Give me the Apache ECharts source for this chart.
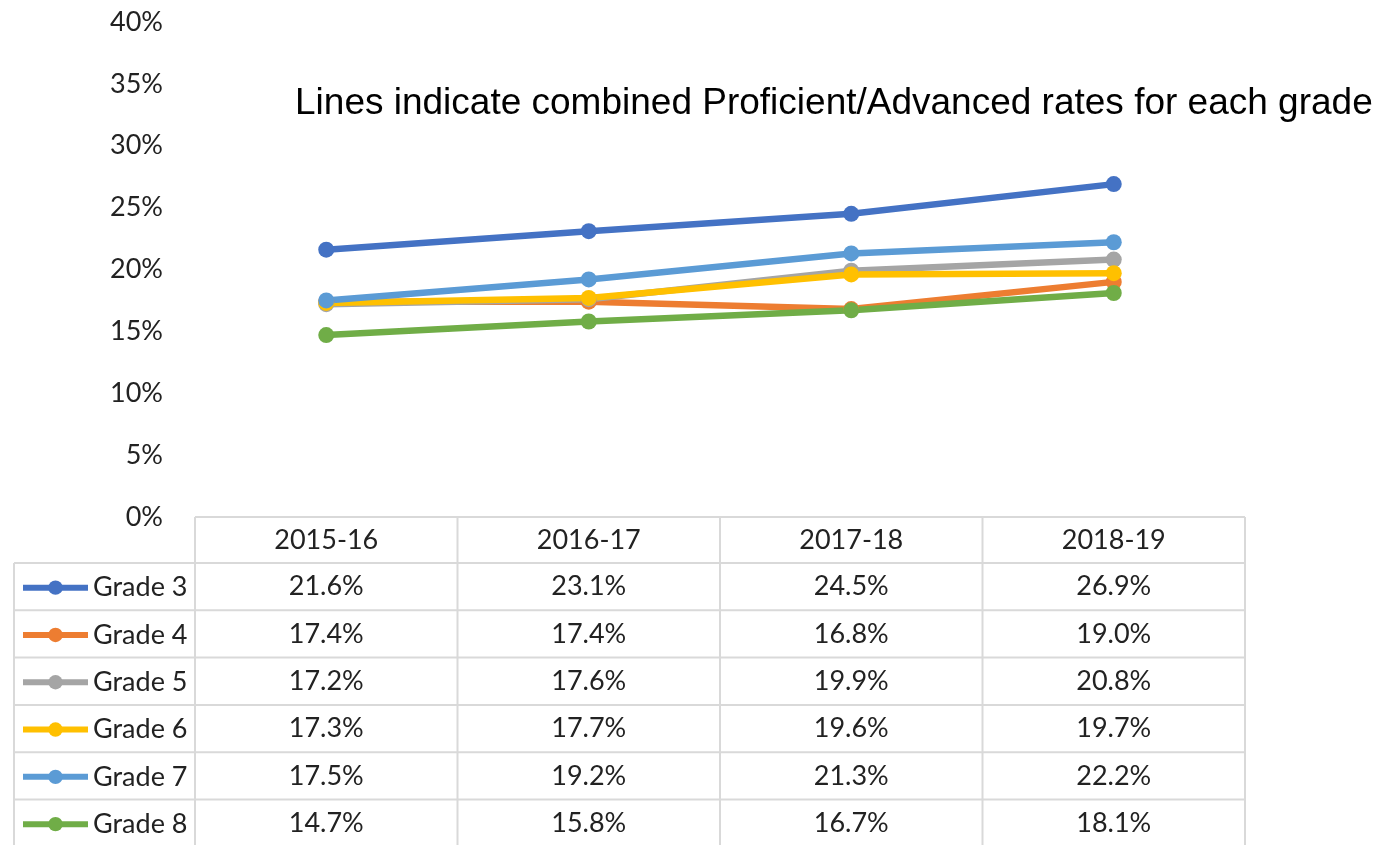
<!DOCTYPE html>
<html>
<head>
<meta charset="utf-8">
<script src="https://cdn.jsdelivr.net/npm/echarts@6/dist/echarts.min.js"></script>
<style>
  html, body { margin: 0; padding: 0; background: #fff; }
  #chart { width: 1390px; height: 845px; }
</style>
</head>
<body>
<div id="chart"></div>
<script>
var years = ["2015-16", "2016-17", "2017-18", "2018-19"];
var grades = ["Grade 3", "Grade 4", "Grade 5", "Grade 6", "Grade 7", "Grade 8"];
var grade3 = [21.6, 23.1, 24.5, 26.9];
var grade4 = [17.4, 17.4, 16.8, 19.0];
var grade5 = [17.2, 17.6, 19.9, 20.8];
var grade6 = [17.3, 17.7, 19.6, 19.7];
var grade7 = [17.5, 19.2, 21.3, 22.2];
var grade8 = [14.7, 15.8, 16.7, 18.1];
var values = [grade3, grade4, grade5, grade6, grade7, grade8];
var colors = ["#4472C4", "#ED7D31", "#A5A5A5", "#FFC000", "#5B9BD5", "#70AD47"];

var tableFont = "Lato";
var gridLeft = 195, gridRight = 145, gridTop = 22, gridBottom = 328;
var headerH = 46, rowH = 47.3, tableLeft = 14;
var lineColor = "#d9d9d9";

var chart = echarts.init(document.getElementById("chart"));

var series = grades.map(function (name, i) {
  return {
    name: name,
    type: "line",
    data: values[i],
    symbol: "circle",
    symbolSize: 16,
    lineStyle: { width: 6.5, color: colors[i] },
    itemStyle: { color: colors[i] }
  };
});

var option = {
  animation: false,
  title: {
    text: "Lines indicate combined Proficient/Advanced rates for each grade",
    left: 290,
    top: 80,
    textStyle: { fontFamily: "Liberation Sans", fontSize: 37, fontWeight: "normal", color: "#000" }
  },
  legend: {
    orient: "vertical",
    left: 20,
    top: 562 + rowH / 2 - 13,
    padding: 0,
    itemGap: rowH - 30,
    itemWidth: 65,
    itemHeight: 18,
    lineStyle: { width: 6 },
    data: grades,
    textStyle: { fontFamily: tableFont, fontSize: 27, lineHeight: 30, color: "#222" }
  },
  grid: { left: gridLeft, right: gridRight, top: gridTop, bottom: gridBottom },
  xAxis: {
    type: "category",
    data: years,
    axisLine: { show: false },
    axisTick: { show: false },
    axisLabel: { show: false }
  },
  yAxis: {
    type: "value",
    min: 0,
    max: 40,
    interval: 5,
    splitLine: { show: false },
    axisLine: { show: false },
    axisTick: { show: false },
    axisLabel: {
      formatter: "{value}%",
      margin: 32,
      fontFamily: tableFont,
      fontSize: 27,
      color: "#222"
    }
  },
  series: series
};

chart.setOption(option);

// data table under the plot
function buildTable() {
  var els = [];
  var top = chart.getHeight() - gridBottom;
  var right = chart.getWidth() - gridRight;
  var bottom = top + headerH + rowH * grades.length + 2;
  var step = (right - gridLeft) / years.length;
  var ln = function (x1, y1, x2, y2) {
    els.push({ type: "line", shape: { x1: x1, y1: y1, x2: x2, y2: y2 }, style: { stroke: lineColor, lineWidth: 2 } });
  };
  ln(gridLeft, top, right, top);
  for (var r = 0; r <= grades.length; r++) {
    var y = top + headerH + rowH * r;
    ln(tableLeft, y, right, y);
  }
  ln(tableLeft, top + headerH, tableLeft, bottom);
  for (var c = 0; c <= years.length; c++) {
    ln(gridLeft + step * c, top, gridLeft + step * c, bottom);
  }
  years.forEach(function (yr, j) {
    var cx = chart.convertToPixel({ xAxisIndex: 0 }, yr);
    els.push({
      type: "text", x: cx, y: top + headerH / 2,
      style: { text: yr, fontFamily: tableFont, fontSize: 27, fill: "#222", align: "center", verticalAlign: "middle" }
    });
    values.forEach(function (row, i) {
      els.push({
        type: "text", x: cx, y: top + headerH + rowH * i + rowH / 2,
        style: { text: row[j].toFixed(1) + "%", fontFamily: tableFont, fontSize: 27, fill: "#222", align: "center", verticalAlign: "middle" }
      });
    });
  });
  chart.setOption({ graphic: { elements: els } });
}
buildTable();
</script>
</body>
</html>
